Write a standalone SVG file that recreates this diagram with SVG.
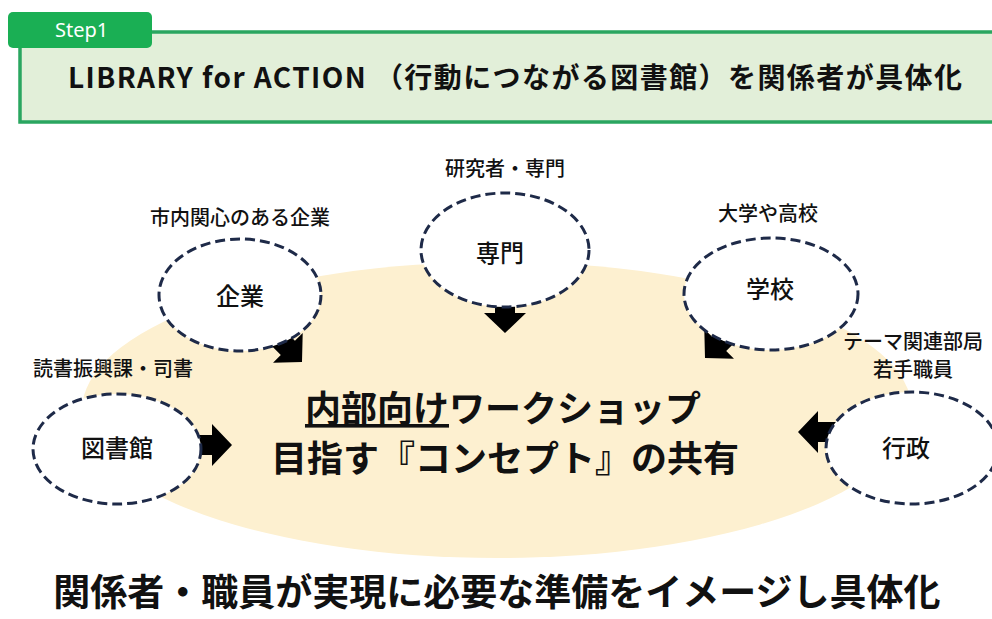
<svg xmlns="http://www.w3.org/2000/svg" width="992" height="619" viewBox="0 0 992 619">
<defs>
<style>
text{font-family:"Noto Sans CJK JP","Noto Sans",sans-serif;fill:#111}
.lbl{font-size:20px;font-weight:500;text-anchor:middle}
.nd{font-size:24px;font-weight:500;text-anchor:middle}
.oval{fill:#fff;stroke:#1e2a48;stroke-width:3;stroke-dasharray:10 5}
.big{font-size:36px;font-weight:700;text-anchor:middle}
</style>
<path id="arr" d="M-10,-38 H10 V-20 H21 L0,0 L-21,-20 H-10 Z" fill="#000"/>
</defs>
<rect x="0" y="0" width="992" height="619" fill="#fff"/>
<g id="header">
<rect x="20" y="32" width="980" height="90" fill="#e2efd9" stroke="#2aa660" stroke-width="3.5"/>
<rect x="8" y="12" width="144" height="36" rx="5" fill="#1aaf54"/>
<text x="55" y="37" style="font-size:20px;fill:#fff;font-family:'Noto Sans','Noto Sans CJK JP',sans-serif">Step1</text>
<text x="68" y="88" textLength="894" lengthAdjust="spacing" style="font-size:28px;font-weight:700">LIBRARY for ACTION （行動につながる図書館）を関係者が具体化</text>
</g>
<ellipse id="concept-area" cx="497" cy="410" rx="415" ry="148" fill="#fdf0d0"/>
<g id="connectors">
<use href="#arr" transform="translate(505,333)"/>
<use href="#arr" transform="translate(302,362) rotate(-45)"/>
<use href="#arr" transform="translate(705,358) rotate(45)"/>
<use href="#arr" transform="translate(232,445) rotate(-90)"/>
<use href="#arr" transform="translate(798,432) rotate(90)"/>
</g>
<g id="kigyo">
<text class="lbl" x="240" y="225">市内関心のある企業</text>
<ellipse class="oval" cx="240" cy="295" rx="81" ry="56"/>
<text class="nd" x="240" y="305">企業</text>
</g>
<g id="senmon">
<text class="lbl" x="505" y="176">研究者・専門</text>
<ellipse class="oval" cx="505" cy="250" rx="84" ry="57"/>
<text class="nd" x="500" y="262">専門</text>
</g>
<g id="gakko">
<text class="lbl" x="768" y="221">大学や高校</text>
<ellipse class="oval" cx="771" cy="294" rx="87" ry="56"/>
<text class="nd" x="770" y="298">学校</text>
</g>
<g id="toshokan">
<text class="lbl" x="113" y="376">読書振興課・司書</text>
<ellipse class="oval" cx="117" cy="449" rx="84" ry="55"/>
<text class="nd" x="117" y="457">図書館</text>
</g>
<g id="gyosei">
<text class="lbl" x="913" y="349">テーマ関連部局</text>
<text class="lbl" x="913" y="377">若手職員</text>
<ellipse class="oval" cx="912" cy="448" rx="86" ry="56"/>
<text class="nd" x="906" y="457">行政</text>
</g>
<g id="center-text">
<text class="big" x="503" y="422"><tspan text-decoration="underline">内部向け</tspan>ワークショップ</text>
<text class="big" x="505" y="472">目指す『コンセプト』の共有</text>
</g>
<text class="big" x="497" y="606" style="font-size:37px">関係者・職員が実現に必要な準備をイメージし具体化</text>
</svg>
